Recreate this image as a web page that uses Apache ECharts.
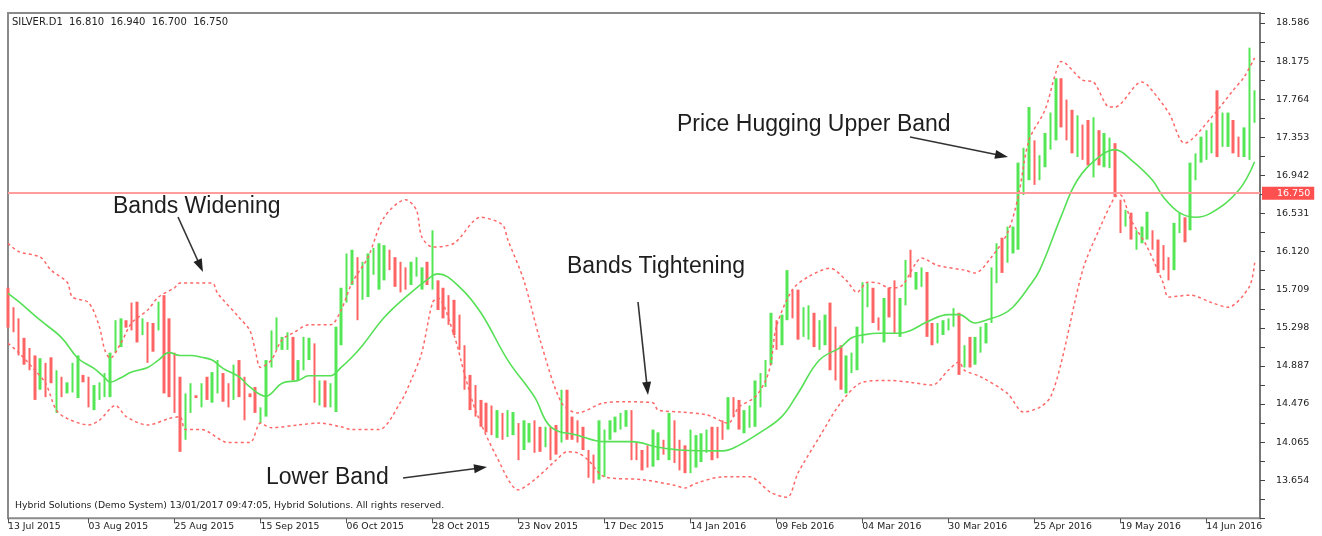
<!DOCTYPE html>
<html><head><meta charset="utf-8">
<script src="https://cdn.jsdelivr.net/npm/echarts@6/dist/echarts.min.js"></script>
<style>html,body{margin:0;padding:0;background:#fff}#c{width:1322px;height:536px}</style>
</head><body><div id="c"></div>
<script>
// Daily bars (high, low, direction 1 = up / green, 0 = down / red)
const barHigh = [
15.73,15.52,15.40,15.19,15.08,15.00,14.97,14.92,14.98,14.84,
14.77,14.71,14.92,15.00,14.79,14.77,14.68,14.71,14.81,15.03,
15.38,15.40,15.38,15.57,15.58,15.40,15.36,15.35,15.58,15.65,
15.40,15.03,14.77,14.59,14.70,14.57,14.70,14.77,14.82,14.95,
14.81,14.70,14.90,14.95,14.77,14.59,14.66,14.44,14.95,15.27,
15.41,15.20,15.25,15.20,14.95,15.20,15.19,15.13,14.73,14.73,
14.70,15.31,15.73,16.10,16.14,16.06,16.01,16.10,16.16,16.21,
16.19,16.14,16.06,16.01,15.95,16.01,16.06,15.95,16.01,16.35,
15.81,15.73,15.65,15.60,15.44,15.11,14.79,14.68,14.52,14.49,
14.46,14.41,14.38,14.41,14.39,14.27,14.30,14.27,14.30,14.23,
14.23,14.23,14.25,14.63,14.63,14.34,14.30,14.23,13.98,13.93,
14.30,14.20,14.30,14.34,14.38,14.41,14.41,14.06,13.98,14.03,
14.20,14.17,14.09,14.38,14.30,14.09,14.03,14.20,14.14,14.16,
14.20,14.23,14.23,14.30,14.55,14.55,14.52,14.41,14.46,14.73,
14.81,14.95,15.46,15.38,15.44,15.92,15.71,15.71,15.52,15.54,
15.46,15.38,15.44,15.57,15.31,15.11,15.00,15.03,15.31,15.79,
15.78,15.73,15.41,15.62,15.73,15.81,15.62,16.03,16.14,15.90,
15.95,15.90,15.35,15.35,15.38,15.40,15.51,15.46,15.11,15.20,
15.20,15.31,15.35,15.95,16.21,16.27,16.39,16.39,17.08,17.24,
17.68,17.32,17.16,17.40,17.62,17.99,17.99,17.76,17.65,17.59,
17.49,17.54,17.57,17.43,17.40,17.35,17.29,16.68,16.57,16.54,
16.35,16.39,16.55,16.35,16.25,16.19,16.06,16.43,16.54,16.49,
17.08,17.18,17.36,17.43,17.51,17.86,17.62,17.62,17.54,17.36,
17.46,18.32,17.86];
const barLow = [
15.30,15.25,15.00,14.90,14.84,14.52,14.63,14.55,14.70,14.38,
14.55,14.59,14.60,14.54,14.71,14.44,14.41,14.52,14.55,14.55,
15.03,15.09,15.30,15.27,15.14,15.22,14.92,15.04,15.27,14.59,
14.55,14.38,13.96,14.09,14.38,14.54,14.44,14.52,14.49,14.59,
14.50,14.44,14.52,14.55,14.30,14.55,14.38,14.27,14.34,14.87,
15.06,15.06,15.06,14.73,14.73,14.84,14.95,14.49,14.46,14.44,
14.44,14.39,15.11,15.57,15.76,15.38,15.60,15.63,15.87,15.71,
15.81,15.92,15.74,15.68,15.71,15.76,15.85,15.71,15.76,15.71,
15.49,15.40,15.33,15.22,15.06,14.63,14.41,14.34,14.23,14.17,
14.14,14.11,14.09,14.12,14.14,13.87,13.98,14.06,13.95,13.96,
14.01,13.87,13.93,14.06,14.09,14.09,14.06,13.98,13.68,13.62,
13.66,13.69,14.09,14.17,14.20,14.23,13.87,13.87,13.76,13.79,
13.80,13.87,13.93,13.87,13.84,13.76,13.73,13.73,13.79,13.85,
13.95,13.87,13.89,14.09,14.20,14.34,14.20,14.16,14.22,14.23,
14.44,14.66,14.90,15.06,15.11,15.38,15.40,15.17,15.20,15.17,
15.09,15.06,15.11,14.84,14.73,14.63,14.59,14.81,14.84,15.13,
15.52,15.35,15.27,15.14,15.41,15.24,15.20,15.54,15.84,15.71,
15.74,15.20,15.11,15.13,15.22,15.27,15.31,14.79,14.87,14.87,
14.90,15.03,15.13,15.35,15.78,15.89,16.00,16.10,16.14,16.73,
16.89,16.84,16.89,17.03,17.22,17.32,17.46,17.32,17.18,17.14,
17.11,17.05,16.92,17.05,17.03,17.02,16.71,16.32,16.39,16.25,
16.14,16.21,16.25,16.14,15.89,15.92,15.81,15.92,16.32,16.22,
16.35,16.89,17.08,17.11,17.18,17.14,17.25,17.25,17.18,17.14,
17.14,17.11,17.51];
const barDir = [
0,0,0,0,0,0,1,0,0,1,
0,1,1,1,0,0,1,1,1,1,
1,1,0,0,0,1,0,0,1,0,
0,0,0,1,1,0,1,0,1,1,
0,0,1,0,0,0,0,1,1,1,
1,1,1,0,1,1,1,0,1,0,
1,1,1,1,1,0,1,1,1,1,
1,0,0,0,0,1,1,1,0,1,
0,0,0,0,0,0,0,0,0,0,
0,1,0,1,1,0,1,1,0,0,
1,0,0,1,0,0,0,0,0,0,
1,1,1,1,1,1,0,0,0,0,
1,1,0,1,0,0,0,1,1,1,
1,0,0,0,1,0,0,1,1,1,
1,1,1,0,1,1,0,0,1,1,
0,1,1,0,0,0,1,1,1,1,
1,0,0,1,0,0,1,1,0,1,
1,0,0,1,1,1,1,0,1,0,
1,1,1,1,1,0,1,1,1,1,
1,0,1,1,1,1,0,0,0,1,
0,0,1,0,1,1,0,0,1,0,
1,1,1,0,0,0,0,1,1,0,
1,1,1,1,1,0,1,1,0,0,
1,1,1];

// Bollinger bands read at bar index: [barIndex, value]
const upperBand = [[0,16.21],[2,16.12],[6,16.06],[8,15.92],[11,15.79],[12,15.63],[15,15.57],[17,15.31],[18,15.06],[19,14.97],[21,15.13],[23,15.35],[26,15.49],[28,15.63],[31,15.73],[32,15.78],[38,15.78],[39,15.67],[43,15.41],[45,15.27],[46,15.06],[47,14.87],[49,14.95],[51,15.17],[53,15.24],[56,15.33],[60,15.33],[62,15.49],[64,15.78],[67,16.06],[70,16.49],[74,16.68],[76,16.57],[77,16.28],[79,16.17],[83,16.21],[88,16.49],[92,16.41],[93,16.25],[96,15.81],[99,15.17],[103,14.49],[106,14.38],[111,14.49],[115,14.50],[120,14.49],[121,14.41],[125,14.39],[130,14.36],[134,14.27],[136,14.44],[139,14.55],[141,14.73],[142,14.92],[143,15.31],[146,15.71],[149,15.85],[153,15.94],[156,15.81],[158,15.68],[160,15.79],[162,15.78],[164,15.73],[166,15.74],[169,16.00],[170,16.05],[173,15.97],[178,15.92],[180,15.89],[183,16.06],[186,16.32],[188,16.71],[190,17.32],[193,17.65],[195,18.05],[196,18.17],[200,17.97],[202,17.95],[205,17.68],[206,17.68],[211,17.95],[212,17.92],[216,17.62],[219,17.29],[224,17.57],[228,17.86],[230,18.00],[232,18.21]];
const middleBand = [[0,15.67],[2,15.58],[6,15.38],[10,15.19],[13,14.97],[16,14.86],[18,14.76],[19,14.71],[21,14.76],[23,14.82],[26,14.87],[28,14.95],[30,15.03],[32,15.00],[34,15.00],[36,14.98],[38,14.95],[40,14.86],[43,14.77],[45,14.66],[48,14.56],[49,14.59],[51,14.70],[54,14.73],[56,14.78],[60,14.78],[62,14.87],[64,14.98],[66,15.11],[70,15.41],[74,15.63],[79,15.86],[80,15.88],[84,15.74],[88,15.46],[93,14.95],[98,14.55],[101,14.23],[106,14.14],[111,14.07],[116,14.07],[121,14.01],[125,13.98],[133,13.97],[136,14.03],[140,14.17],[144,14.34],[147,14.59],[151,14.95],[155,15.09],[157,15.19],[159,15.22],[162,15.24],[166,15.24],[168,15.27],[171,15.36],[175,15.44],[177,15.44],[180,15.35],[182,15.38],[185,15.44],[187,15.52],[190,15.74],[192,15.92],[196,16.50],[199,16.89],[203,17.14],[206,17.22],[209,17.11],[213,16.89],[215,16.71],[218,16.54],[221,16.49],[224,16.54],[229,16.78],[232,17.09]];
const lowerBand = [[0,15.13],[2,15.03],[5,14.84],[7,14.70],[9,14.41],[11,14.32],[15,14.25],[17,14.30],[20,14.46],[22,14.34],[26,14.25],[30,14.32],[32,14.34],[33,14.20],[36,14.20],[41,14.06],[45,14.06],[47,14.27],[49,14.22],[54,14.25],[58,14.27],[62,14.23],[64,14.20],[69,14.20],[73,14.49],[75,14.73],[77,15.03],[79,15.57],[80,15.62],[83,15.22],[85,14.79],[87,14.41],[91,13.90],[95,13.55],[98,13.66],[102,13.87],[104,13.96],[106,13.95],[108,13.87],[111,13.69],[118,13.66],[124,13.60],[126,13.57],[128,13.62],[133,13.69],[138,13.69],[142,13.52],[145,13.47],[147,13.73],[151,14.12],[155,14.49],[159,14.71],[164,14.73],[168,14.71],[172,14.68],[175,14.84],[177,14.93],[178,14.84],[181,14.77],[186,14.59],[189,14.39],[192,14.44],[194,14.55],[196,14.92],[200,15.92],[203,16.35],[206,16.71],[207,16.73],[209,16.46],[212,16.17],[215,15.78],[216,15.63],[220,15.65],[224,15.57],[227,15.52],[231,15.74],[232,16.00]];

const tickIndex = [0,15,31,47,63,79,95,111,127,143,159,175,191,207,223];
const tickText = ['13 Jul 2015','03 Aug 2015','25 Aug 2015','15 Sep 2015','06 Oct 2015','28 Oct 2015','23 Nov 2015','17 Dec 2015','14 Jan 2016','09 Feb 2016','04 Mar 2016','30 Mar 2016','25 Apr 2016','19 May 2016','14 Jun 2016'];
const categoryCount = 234;
const yMin = 13.243, yMax = 18.694, yStep = 0.411;
const lastPrice = 16.750;
const headerText = 'SILVER.D1  16.810  16.940  16.700  16.750';
const footerText = 'Hybrid Solutions (Demo System) 13/01/2017 09:47:05, Hybrid Solutions. All rights reserved.';
const notes = [
  {text:'Bands Widening', x:113, y:207, arrow:[178,217,203,272]},
  {text:'Bands Tightening', x:567, y:267, arrow:[638,302,648,395]},
  {text:'Lower Band', x:266, y:478, arrow:[403,478,487,467]},
  {text:'Price Hugging Upper Band', x:677, y:125, arrow:[910,137,1008,157]}
];

const categories = Array.from({length: categoryCount}, (_, i) => String(i));
const labelMap = {};
tickIndex.forEach((t, k) => { labelMap[t] = tickText[k]; });
const showTick = (idx) => labelMap[idx] !== undefined;
const ohlc = barHigh.map((h, i) => barDir[i] ? [barLow[i], h, barLow[i], h] : [h, barLow[i], barLow[i], h]);

const GREEN = '#55e655', RED = '#ff6464', BAND = '#ff6868';

function arrowGraphics(x1, y1, x2, y2) {
  const dx = x2 - x1, dy = y2 - y1, L = Math.hypot(dx, dy), ux = dx / L, uy = dy / L;
  const hl = 13, hw = 4.5, bx = x2 - ux * hl, by = y2 - uy * hl;
  return [
    {type:'line', shape:{x1:x1, y1:y1, x2:bx + ux*2, y2:by + uy*2}, style:{stroke:'#333', lineWidth:1.6}, z:100},
    {type:'polygon', shape:{points:[[x2,y2],[bx - uy*hw, by + ux*hw],[bx + uy*hw, by - ux*hw]]}, style:{fill:'#222'}, z:100}
  ];
}
const graphics = [
  {type:'text', x:12, y:17, style:{text:headerText, font:'10px "DejaVu Sans"', fill:'#222'}, z:100},
  {type:'text', x:15, y:501, style:{text:footerText, font:'9.3px "DejaVu Sans"', fill:'#222'}, z:100}
];
notes.forEach(n => {
  graphics.push({type:'text', x:n.x, y:n.y, style:{text:n.text, font:'23px "Liberation Sans"', fill:'#1e1e1e', verticalAlign:'middle', textVerticalAlign:'middle'}, z:100});
  arrowGraphics.apply(null, n.arrow).forEach(g => graphics.push(g));
});

const chart = echarts.init(document.getElementById('c'), null, {renderer:'canvas'});
chart.setOption({
  animation:false,
  backgroundColor:'#ffffff',
  textStyle:{fontFamily:'"DejaVu Sans", sans-serif'},
  grid:{left:8, right:62, top:13, bottom:17.7, show:true, borderColor:'#8a8a8a', borderWidth:2, backgroundColor:'transparent'},
  xAxis:{
    type:'category', data:categories, boundaryGap:false,
    axisLine:{show:false},
    axisTick:{show:true, interval:(i)=>showTick(i), length:5, lineStyle:{color:'#555'}},
    axisLabel:{interval:(i)=>showTick(i), formatter:(v, i)=>labelMap[Number(v)] || '', align:'left', fontSize:9.3, color:'#222', margin:4},
    splitLine:{show:false}
  },
  yAxis:{
    type:'value', position:'right', min:yMin, max:yMax, interval:yStep,
    axisLine:{show:true, lineStyle:{color:'#777', width:2}},
    axisTick:{show:true, length:5, lineStyle:{color:'#444'}},
    minorTick:{show:true, splitNumber:2, length:5, lineStyle:{color:'#444'}},
    axisLabel:{formatter:(v)=>v.toFixed(3), fontSize:9.5, color:'#222', margin:16, showMinLabel:false, showMaxLabel:false},
    splitLine:{show:false}
  },
  series:[
    {
      type:'candlestick', data:ohlc, barWidth:3,
      itemStyle:{color:GREEN, color0:RED, borderColor:GREEN, borderColor0:RED, borderWidth:0},
      markLine:{
        silent:true, symbol:'none', animation:false,
        lineStyle:{color:'#ff9c9c', width:2, type:'solid'},
        label:{show:true, position:'end', formatter:lastPrice.toFixed(3), color:'#fff', backgroundColor:'#ff5050', padding:[2,4,1,15], fontSize:9.5, distance:2},
        data:[{yAxis:lastPrice}]
      }
    },
    {type:'line', data:upperBand, symbol:'none', smooth:0.3, lineStyle:{color:BAND, width:1.5, type:[3,3]}, z:3},
    {type:'line', data:middleBand, symbol:'none', smooth:0.4, lineStyle:{color:'#55e055', width:1.6}, z:3},
    {type:'line', data:lowerBand, symbol:'none', smooth:0.3, lineStyle:{color:BAND, width:1.5, type:[3,3]}, z:3}
  ],
  graphic:graphics
});
</script>
</body></html>
